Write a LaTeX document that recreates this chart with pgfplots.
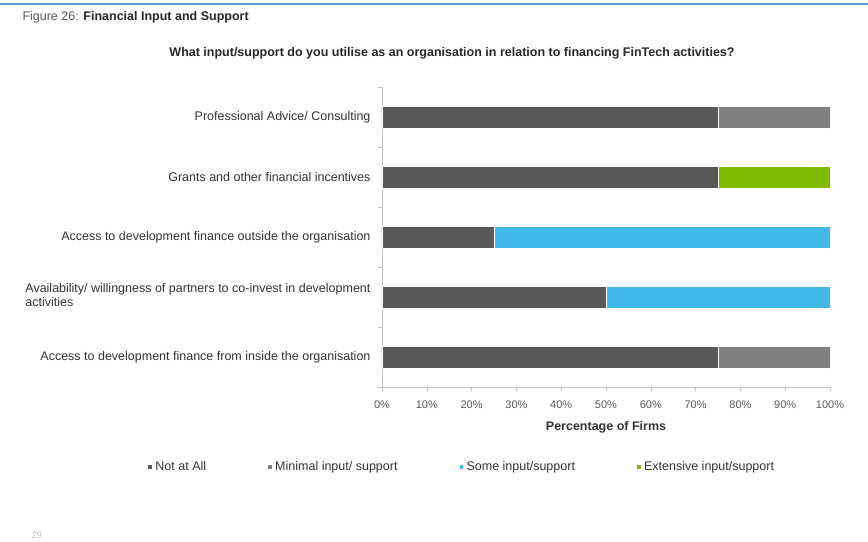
\documentclass[border=0pt]{standalone}
\usepackage{pgfplots}
\pgfplotsset{compat=1.18}
\usepackage{fontspec}
\setmainfont{Liberation Sans}

\definecolor{notatall}{HTML}{595959}
\definecolor{minimal}{HTML}{7F7F7F}
\definecolor{someinput}{HTML}{40B7E6}
\definecolor{extensive}{HTML}{7FBA00}
\definecolor{headblue}{HTML}{5B9BD5}
\definecolor{txtdark}{HTML}{262626}
\definecolor{txtmid}{HTML}{333333}
\definecolor{txtgray}{HTML}{595959}
\definecolor{axisgray}{HTML}{BFBFBF}

\begin{document}
\begin{tikzpicture}
% page frame
\path[use as bounding box, fill=white] (0,0) rectangle (868bp,-542bp);
\draw[headblue, line width=2bp] (0,-4bp) -- (868bp,-4bp);
\node[anchor=west, font=\fontsize{12.5bp}{14bp}\selectfont] at (19bp,-17bp)
  {\textcolor{txtgray}{Figure 26:} \textcolor{txtdark}{\textbf{Financial Input and Support}}};
\node[font=\fontsize{12.5bp}{14bp}\selectfont\bfseries, text=txtdark] at (452bp,-53bp)
  {What input/support do you utilise as an organisation in relation to financing FinTech activities?};
\node[font=\fontsize{9bp}{10bp}\selectfont, text=black!25] at (37bp,-535bp) {29};

\begin{axis}[
  at={(382bp,-387bp)}, anchor=south west,
  scale only axis, width=448bp, height=300bp,
  xbar stacked, bar width=22bp,
  xmin=0, xmax=100, ymin=-0.5, ymax=4.5,
  axis x line*=bottom, axis y line*=left,
  axis line style={axisgray, line width=0.8bp},
  xtick={0,10,...,100},
  xticklabel={\pgfmathprintnumber{\tick}\%},
  /pgf/number format/assume math mode=true,
  tick align=outside, major tick length=4bp,
  tick style={axisgray, line width=0.6bp},
  ytick={-0.5,0.5,...,4.5}, yticklabels={},
  extra y ticks={0,1,2,3,4},
  extra y tick labels={
    Access to development finance from inside the organisation,
    {\begin{tabular}{@{}l@{}}Availability/ willingness of partners to co-invest in development\\activities\end{tabular}},
    Access to development finance outside the organisation,
    Grants and other financial incentives,
    Professional Advice/ Consulting},
  extra y tick style={major tick length=0pt,
    yticklabel style={font=\fontsize{12.5bp}{14bp}\selectfont, text=txtmid, xshift=-8bp}},
  xticklabel style={font=\fontsize{11bp}{12bp}\selectfont, text=txtgray, yshift=-6bp},
  xlabel={Percentage of Firms},
  xlabel style={font=\fontsize{12.5bp}{14bp}\selectfont\bfseries, text=txtmid, yshift=-6bp},
  legend columns=4,
  legend style={at={(0.179,-0.267)}, anchor=center, draw=none,
    font=\fontsize{12.5bp}{14bp}\selectfont, text=txtmid,
    /tikz/every odd column/.append style={column sep=1.5bp},
    /tikz/every even column/.append style={column sep=60bp}},
  legend image code/.code={\fill[#1,draw=none] (0bp,-1.8bp) rectangle (3.6bp,1.8bp);},
  every axis plot/.append style={draw=white, line width=0.8bp},
]
\addplot[fill=notatall] coordinates {(75,0) (50,1) (25,2) (75,3) (75,4)};
\addplot[fill=minimal] coordinates {(25,0) (0,1) (0,2) (0,3) (25,4)};
\addplot[fill=someinput] coordinates {(0,0) (50,1) (75,2) (0,3) (0,4)};
\addplot[fill=extensive] coordinates {(0,0) (0,1) (0,2) (25,3) (0,4)};
\legend{Not at All, Minimal input/ support, Some input/support, Extensive input/support}
\end{axis}
\end{tikzpicture}
\end{document}
